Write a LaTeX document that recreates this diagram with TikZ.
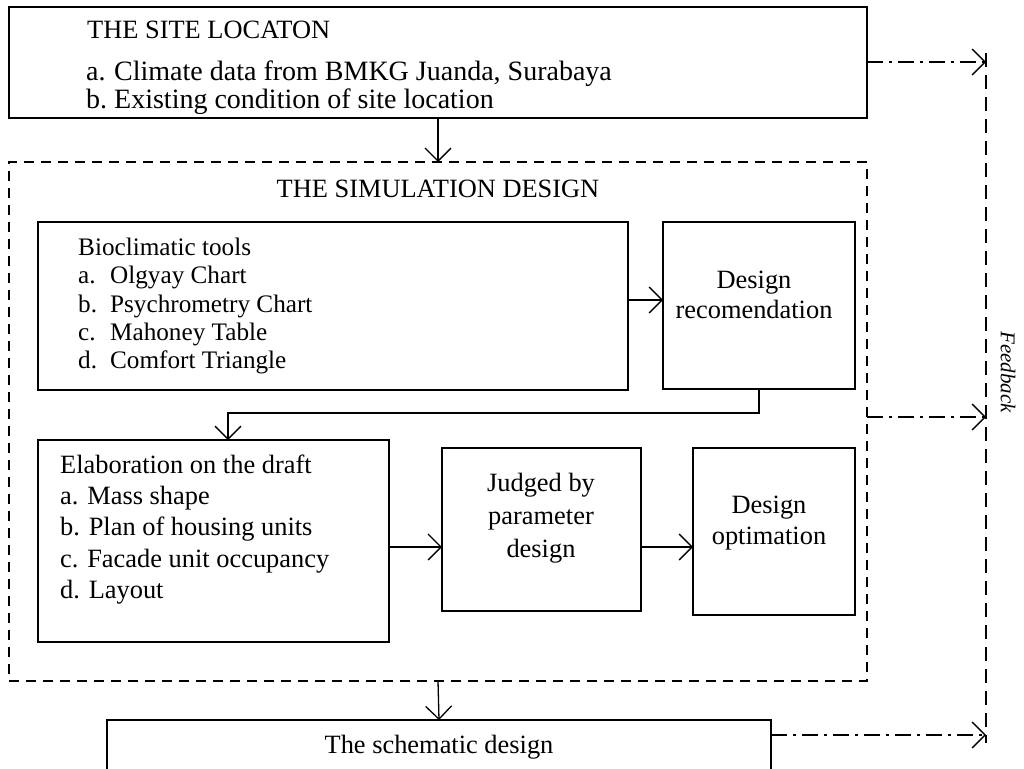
\documentclass[tikz,border=0pt]{standalone}
\usepackage{fontspec}
\setmainfont{Liberation Serif}
\usetikzlibrary{arrows.meta}
\begin{document}
\begin{tikzpicture}[x=1pt,y=-1pt,
  box/.style={draw, line width=1.3pt, rectangle, inner sep=0pt, outer sep=0pt},
  simbox/.style={box, dash pattern=on 10pt off 7pt},
  lbl/.style={anchor=base west, inner sep=0pt, font=\fontsize{26.4}{31}\selectfont},
  biglbl/.style={lbl, font=\fontsize{28}{33}\selectfont},
  smalllbl/.style={lbl, font=\fontsize{25.2}{30}\selectfont},
  clbl/.style={lbl, anchor=base},
  arr/.style={line width=1.3pt, -{Straight Barb[length=13pt,width=26pt]}},
  fbarr/.style={arr, dash pattern=on 16pt off 6pt on 3pt off 6pt},
  fbline/.style={line width=1.8pt, dash pattern=on 14pt off 8pt}]
\useasboundingbox (0,0) rectangle (1024,768);
\clip (0,0) rectangle (1024,768);

% boxes
\node[box, minimum width=858pt, minimum height=111pt] (site) at (438,62.5) {};
\node[simbox, minimum width=858pt, minimum height=519pt] (sim) at (438,421.5) {};
\node[box, minimum width=590pt, minimum height=168pt] (bio) at (333,306) {};
\node[box, minimum width=192pt, minimum height=167pt] (rec) at (759,305.5) {};
\node[box, minimum width=351pt, minimum height=202pt] (elab) at (213.5,541) {};
\node[box, minimum width=199pt, minimum height=163pt] (judged) at (541.5,529.5) {};
\node[box, minimum width=162pt, minimum height=167pt] (opt) at (774,531.5) {};
\node[box, minimum width=664pt, minimum height=80pt] (schem) at (439,760) {};

% texts: site
\node[lbl] (t1) at (87,38) {THE SITE LOCATON};
\node[biglbl] (t2) at (86,80) {\makebox[28pt][l]{a.}Climate data from BMKG Juanda, Surabaya};
\node[biglbl] (t3) at (86,108) {\makebox[28pt][l]{b.}Existing condition of site location};

% simulation title
\node[clbl] (simt) at (438,197) {THE SIMULATION DESIGN};

% bioclimatic
\node[smalllbl] (b0) at (78,255) {Bioclimatic tools};
\node[smalllbl] (b1) at (78,283) {\makebox[32pt][l]{a.}Olgyay Chart};
\node[smalllbl] (b2) at (78,312) {\makebox[32pt][l]{b.}Psychrometry Chart};
\node[smalllbl] (b3) at (78,340) {\makebox[32pt][l]{c.}Mahoney Table};
\node[smalllbl] (b4) at (78,368) {\makebox[32pt][l]{d.}Comfort Triangle};

% design recommendation
\node[clbl] (r1) at (754,288) {Design};
\node[clbl] (r2) at (754,318) {recomendation};

% elaboration
\node[lbl] (e0) at (60,473) {Elaboration on the draft};
\node[lbl] (e1) at (60,504) {a. Mass shape};
\node[lbl] (e2) at (60,535) {b. Plan of housing units};
\node[lbl] (e3) at (60,567) {c. Facade unit occupancy};
\node[lbl] (e4) at (60,598) {d. Layout};

% judged
\node[clbl] (j1) at (541,491) {Judged by};
\node[clbl] (j2) at (541,524) {parameter};
\node[clbl] (j3) at (541,557) {design};

% optimation
\node[clbl] (o1) at (769,513) {Design};
\node[clbl] (o2) at (769,544) {optimation};

% schematic
\node[clbl] (s1) at (439,753) {The schematic design};

% feedback
\node[inner sep=0pt, rotate=-90, font=\fontsize{21}{24}\selectfont\itshape] (fb) at (1008,372) {Feedback};

% connectors
\draw[arr] (site.south) -- (sim.north);
\draw[arr] (bio.east |- 0,300) -- (rec.west |- 0,300);
\coordinate (turn) at (228,413);
\draw[arr] (rec.south) |- (turn) -- (turn |- elab.north);
\draw[arr] (elab.east |- 0,547) -- (judged.west |- 0,547);
\draw[arr] (judged.east |- 0,547) -- (opt.west |- 0,547);
\draw[arr] (sim.south) -- (schem.north);

% feedback line and arrows
\coordinate (fbtop) at (986,53);
\coordinate (fbbot) at (986,743);
\draw[fbline] (fbtop) -- (fbbot);
\coordinate (f1) at (986,62);
\coordinate (f2) at (986,417);
\coordinate (f3) at (986,735);
\draw[fbarr] (site.east |- f1) -- (f1);
\draw[fbarr] (sim.east |- f2) -- (f2);
\draw[fbarr] (schem.east |- f3) -- (f3);
\end{tikzpicture}
\end{document}
